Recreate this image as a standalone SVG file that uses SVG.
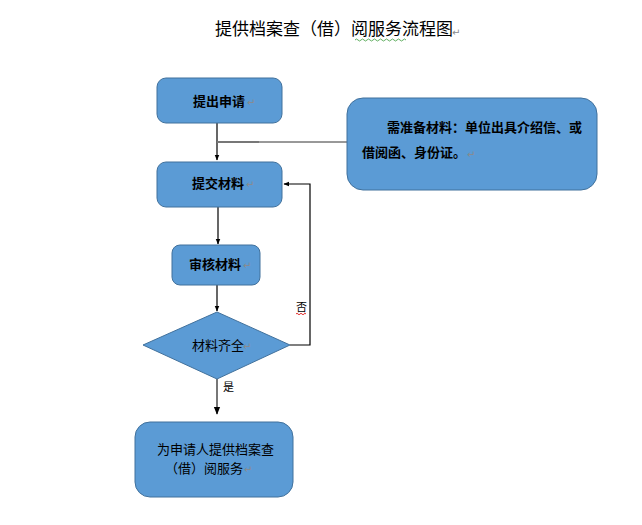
<svg xmlns="http://www.w3.org/2000/svg" width="642" height="525" viewBox="0 0 642 525">
<defs>
<marker id="arr" viewBox="0 0 10 10" refX="9" refY="5" markerWidth="5" markerHeight="5" orient="auto-start-reverse">
<path d="M0,1 L10,5 L0,9 z" fill="#000"/>
</marker>
</defs>
<style>
.shape{fill:#5B9BD5;stroke:#41719C;stroke-width:1}
.t{font-family:"Noto Sans CJK SC","Liberation Sans",sans-serif;fill:#000}
.b{font-weight:bold;font-size:13px}
.r{font-size:13px}
.pm{font-family:"DejaVu Sans",sans-serif;fill:#8a8a8a;font-size:10px}
.ln{fill:none;stroke:#000;stroke-width:1.2}
</style>
<rect width="642" height="525" fill="#fff"/>
<g id="title">
<text class="t" x="215" y="35" font-size="17">提供档案查（借）阅服务流程图</text>
<text class="pm" x="452" y="36">↵</text>
<path d="M355,40 q1.5,-2 3,0 t3,0 t3,0 t3,0 t3,0 t3,0 t3,0 t3,0 t3,0 t3,0 t3,0 t3,0 t3,0 t3,0 t3,0 t3,0 t3,0" fill="none" stroke="#3a9a3a" stroke-width="0.8"/>
</g>
<g id="connectors">
<line class="ln" x1="217" y1="123" x2="217" y2="160" marker-end="url(#arr)"/>
<line x1="217" y1="142" x2="259" y2="142" stroke="#777" stroke-width="2"/>
<line x1="259" y1="142" x2="347" y2="142" stroke="#333" stroke-width="1"/>
<line class="ln" x1="218" y1="207" x2="218" y2="244" marker-end="url(#arr)"/>
<line class="ln" x1="217" y1="285" x2="217" y2="311" marker-end="url(#arr)"/>
<polyline class="ln" points="290,345 310,345 310,184 284,184" marker-end="url(#arr)"/>
<line x1="217" y1="379" x2="217" y2="414" stroke="#555" stroke-width="1.6" marker-end="url(#arr)"/>
<text class="t" x="296" y="311" font-size="11">否</text>
<path d="M296,314 q1,-1.5 2,0 t2,0 t2,0 t2,0 t2,0" fill="none" stroke="#d00" stroke-width="0.8"/>
<text class="t" x="223" y="391" font-size="11">是</text>
</g>
<g id="n1">
<rect class="shape" x="157" y="78" width="125" height="45" rx="9"/>
<text class="t b" x="193" y="106">提出申请</text>
<text class="pm" x="247" y="106">↵</text>
</g>
<g id="note">
<rect class="shape" x="347" y="98" width="250" height="92" rx="16"/>
<text class="t b" x="387" y="132">需准备材料：单位出具介绍信、或</text>
<text class="t b" x="362" y="157">借阅函、身份证。</text>
<text class="pm" x="467" y="158">↵</text>
</g>
<g id="n2">
<rect class="shape" x="157" y="162" width="125" height="45" rx="9"/>
<text class="t b" x="192" y="188">提交材料</text>
<text class="pm" x="246" y="188">↵</text>
</g>
<g id="n3">
<rect class="shape" x="172" y="245" width="88" height="40" rx="8"/>
<text class="t b" x="189" y="269">审核材料</text>
<text class="pm" x="243" y="269">↵</text>
</g>
<g id="n4">
<polygon class="shape" points="217,312 290,345 217,379 143,345"/>
<text class="t r" x="192" y="350">材料齐全</text>
<text class="pm" x="243" y="350">↵</text>
</g>
<g id="n5">
<rect class="shape" x="135" y="422" width="158" height="75" rx="15"/>
<text class="t r" x="157" y="454">为申请人提供档案查</text>
<text class="t r" x="165" y="473">（借）阅服务</text>
<text class="pm" x="244" y="473">↵</text>
</g>
</svg>
